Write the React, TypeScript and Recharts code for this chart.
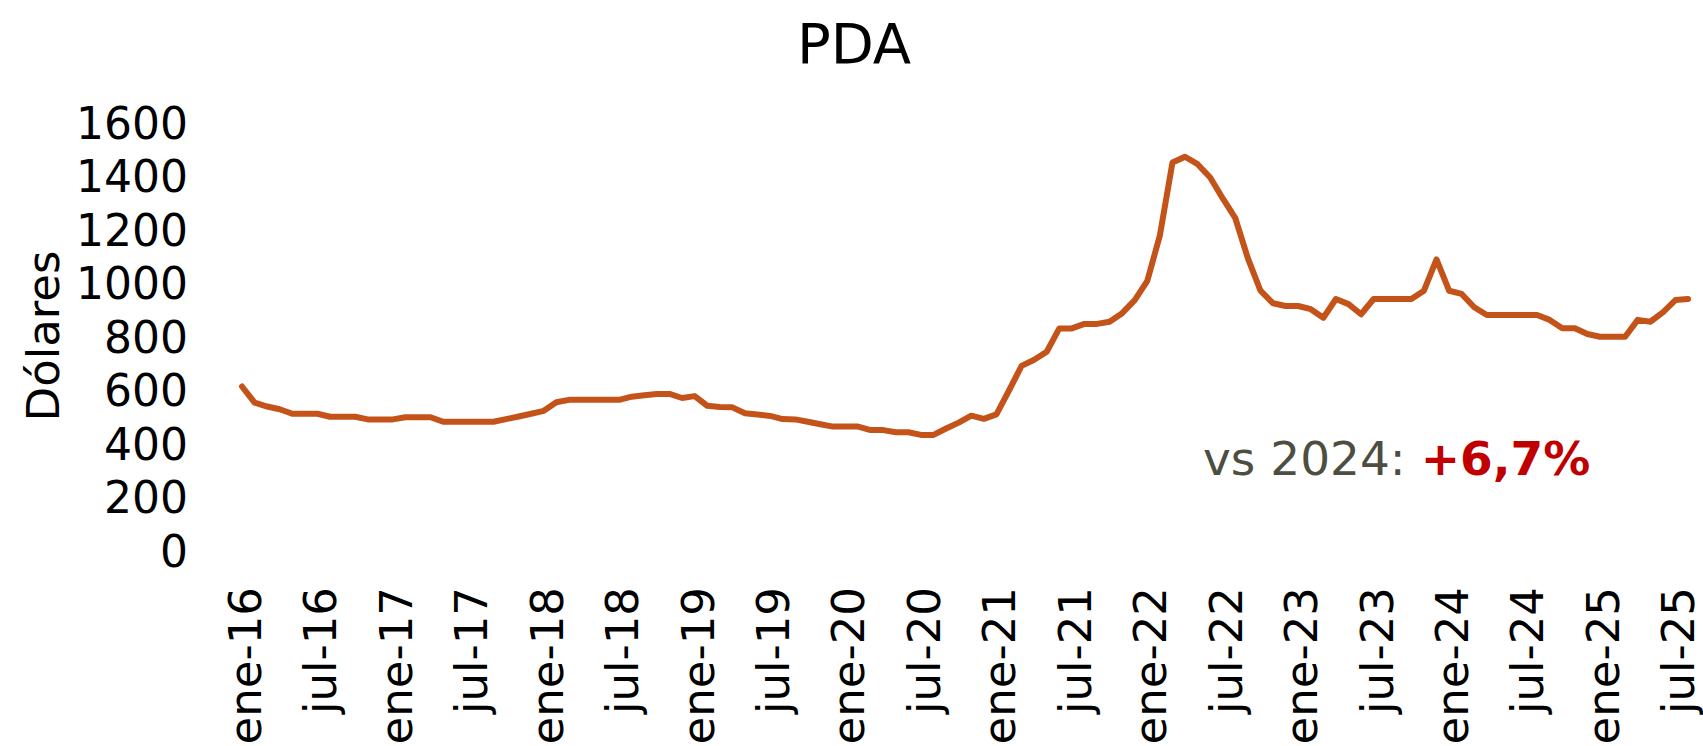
import { LineChart, Line, XAxis, YAxis } from 'recharts'

const monthNames = ['ene', 'feb', 'mar', 'abr', 'may', 'jun', 'jul', 'ago', 'sep', 'oct', 'nov', 'dic']
const years = ['16', '17', '18', '19', '20', '21', '22', '23', '24', '25']

// precio mensual PDA, ene-16 a ago-25 (USD)
const prices = [
  615, 555, 540, 530, 513, 513, 513, 502, 502, 502, 492, 492,
  492, 500, 500, 500, 483, 483, 483, 483, 483, 493, 503, 513,
  524, 556, 565, 565, 565, 565, 565, 577, 582, 587, 587, 572,
  579, 543, 538, 537, 515, 510, 505, 493, 492, 483, 474, 465,
  465, 465, 452, 452, 444, 444, 434, 434, 458, 480, 506, 494,
  511, 600, 692, 715, 745, 832, 832, 849, 849, 857, 889, 938,
  1010, 1180, 1452, 1474, 1446, 1396, 1318, 1244, 1094, 973, 926, 916,
  916, 904, 872, 942, 923, 885, 942, 942, 942, 942, 973, 1090,
  973, 961, 911, 882, 882, 882, 882, 882, 864, 833, 833, 811,
  801, 801, 801, 864, 857, 892, 938, 942,
]

const yTicks = [0, 200, 400, 600, 800, 1000, 1200, 1400, 1600]

const months = years.flatMap((y) => monthNames.map((m) => `${m}-${y}`)).slice(0, prices.length)
const data = months.map((month, i) => ({ month, price: prices[i] }))

const FONT = '"DejaVu Sans", sans-serif'

// eslint-disable-next-line @typescript-eslint/no-explicit-any
function MonthTick({ x, y, payload }: any) {
  return (
    <text
      x={x}
      y={y}
      transform={`rotate(-90, ${x}, ${y})`}
      textAnchor="end"
      dy="0.42em"
      fontSize={45}
      fontFamily={FONT}
      fill="#000"
    >
      {payload.value}
    </text>
  )
}

export default function App() {
  return (
    <div
      style={{
        position: 'absolute', left: 0, top: 0, width: 1703, height: 746,
        overflow: 'hidden', background: '#fff', fontFamily: FONT,
      }}
    >
      <div
        style={{
          position: 'absolute', left: 854, top: 16, transform: 'translateX(-50%)',
          fontSize: 56, lineHeight: 1, color: '#000', whiteSpace: 'nowrap',
        }}
      >
        PDA
      </div>
      <div
        style={{
          position: 'absolute', left: 43, top: 336, transform: 'translate(-50%, -50%) rotate(-90deg)',
          fontSize: 45, lineHeight: 1, color: '#000', whiteSpace: 'nowrap',
        }}
      >
        Dólares
      </div>
      <LineChart width={1703} height={900} data={data} margin={{ top: 123, right: 15, left: 0, bottom: 0 }}>
        <XAxis
          dataKey="month"
          axisLine={false}
          tickLine={false}
          tickSize={0}
          tickMargin={36}
          interval={5}
          height={349}
          tick={<MonthTick />}
        />
        <YAxis
          domain={[0, 1600]}
          ticks={yTicks}
          interval={0}
          axisLine={false}
          tickLine={false}
          tickSize={0}
          tickMargin={54}
          width={242}
          tick={{ fontSize: 44, fontFamily: FONT, fill: '#000' }}
        />
        <Line
          type="linear"
          dataKey="price"
          stroke="#C4531A"
          strokeWidth={6}
          strokeLinejoin="round"
          strokeLinecap="round"
          dot={false}
          isAnimationActive={false}
        />
      </LineChart>
      <div
        style={{
          position: 'absolute', left: 1203, top: 435, fontSize: 47, lineHeight: 1,
          whiteSpace: 'nowrap', color: '#4d4d42',
        }}
      >
        vs 2024: <span style={{ color: '#c00000', fontWeight: 'bold' }}>+6,7%</span>
      </div>
    </div>
  )
}
